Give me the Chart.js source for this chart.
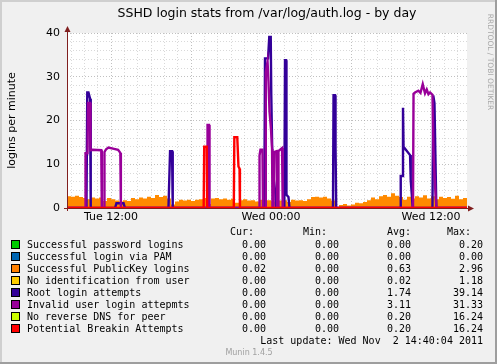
<!DOCTYPE html>
<html>
<head>
<meta charset="utf-8">
<script src="https://cdn.jsdelivr.net/npm/chart.js@4.4.0/dist/chart.umd.min.js"></script>
<style>
  html, body { margin: 0; padding: 0; background: #f0f0f0; }
  #wrap { width: 497px; height: 364px; }
</style>
</head>
<body>
<div id="wrap"><canvas id="sshd" width="497" height="364"></canvas></div>
<script>
// --- DATA (hours since Tue 00:00) ---
const xStart = 8.7;
const xEnd = 38.7;
const xTickHours = [12, 24, 36];
const xTickLabels = ['Tue 12:00', 'Wed 00:00', 'Wed 12:00'];
const yTickValues = [0, 10, 20, 30, 40];

// Successful PublicKey logins, one sample every 18 minutes from xStart
const pubkeyStep = 0.3;
const pubkeyValues = [
    2.7, 2.6, 2.8, 2.5, 2.3, 2.0, 2.4, 2.2, 2.4, 1.6,
    2.3, 2.0, 1.7, 1.5, 1.8, 1.6, 2.3, 2.0, 2.4, 2.2,
    2.6, 2.3, 3.0, 2.5, 2.8, 2.2, 0.8, 1.5, 1.9, 1.7,
    1.9, 1.6, 1.9, 2.0, 2.3, 0.9, 2.2, 2.3, 2.0, 2.2,
    1.9, 2.1, 1.2, 1.8, 2.0, 1.7, 1.8, 1.5, 1.9, 1.6,
    1.8, 1.5, 1.9, 1.7, 1.8, 1.4, 1.9, 1.7, 1.8, 1.6,
    2.0, 2.5, 2.6, 2.4, 2.6, 2.2, 1.7, 0.2, 0.7, 0.9,
    0.6, 0.8, 1.2, 1.1, 1.4, 1.8, 2.4, 2.0, 2.7, 3.0,
    2.6, 3.4, 2.8, 2.5, 1.9, 2.6, 2.2, 2.7, 2.4, 2.9,
    2.2, 2.7, 2.0, 2.6, 2.3, 2.5, 2.1, 2.8, 2.0, 2.3,
    1.9
];

// Root login attempts
const rootTimes = [
    8.70, 10.16, 10.22, 10.31, 10.43, 10.48,
    12.30, 12.41, 12.94, 13.05,
    16.31, 16.35, 16.43, 16.58, 16.63,
    23.50, 23.55, 23.78, 23.87, 23.98, 24.02, 24.11, 24.15, 24.34, 24.40,
    25.00, 25.05, 25.13, 25.16, 25.31, 25.39,
    28.65, 28.69, 28.80, 28.84, 28.89,
    33.68, 33.73, 33.86, 33.90, 33.94, 34.43, 34.48, 34.63,
    36.11, 36.17, 36.26, 36.40, 38.70
];
const rootValues = [
    0, 0, 26.4, 26.4, 25.0, 0,
    0, 1.1, 1.1, 0,
    0, 4.3, 13.0, 13.0, 0,
    0, 34.2, 34.2, 39.1, 39.1, 26, 10, 8, 3, 0,
    0, 33.8, 33.8, 3, 2.5, 0,
    0, 25.8, 25.8, 14, 0,
    0, 7.3, 7.3, 22.9, 14, 12.1, 6.4, 0,
    0, 25.7, 24, 0, 0
];

// Invalid user login attepmts
const invalidTimes = [
    8.70, 10.05, 10.09, 10.24, 10.28, 10.43, 10.46, 10.61, 11.27, 11.31,
    11.48, 11.51, 11.63, 11.81, 12.23, 12.53, 12.70, 12.74,
    19.20, 19.24, 19.35, 19.39,
    23.10, 23.14, 23.21, 23.36, 23.40,
    23.57, 23.61, 23.74, 23.81, 23.89, 24.00, 24.08, 24.11,
    24.19, 24.23, 24.41, 24.45,
    24.53, 24.56, 24.83, 24.88,
    34.65, 34.69, 34.80, 35.05, 35.21, 35.38, 35.55, 35.68, 35.81, 35.93,
    36.11, 36.19, 36.34, 36.41, 38.70
];
const invalidValues = [
    0, 0, 12.5, 12.5, 24, 24, 13.2, 13.3, 13.2, 0,
    0, 12.8, 13.4, 13.8, 13.5, 13.3, 12.6, 0,
    0, 19, 19, 0,
    0, 12, 13.3, 13.3, 0,
    0, 31, 33.5, 29, 22, 18, 13.5, 0,
    0, 12.8, 13, 0,
    0, 13, 13.7, 0,
    0, 26.1, 26.4, 26.8, 26.3, 28.3, 26.2, 27.1, 26.0, 26.4,
    25.9, 12, 3, 0, 0
];

// Potential Breakin Attempts
const breakinTimes = [8.70, 18.95, 18.99, 19.18, 19.21, 21.21, 21.25, 21.47, 21.56, 21.64, 21.67, 38.70];
const breakinValues = [0, 0, 14, 14, 0, 0, 16.2, 16.2, 9.5, 9, 0, 0];

// Legend table
const seriesNames = [
    'Successful password logins',
    'Successful login via PAM',
    'Successful PublicKey logins',
    'No identification from user',
    'Root login attempts',
    'Invalid user login attepmts',
    'No reverse DNS for peer',
    'Potential Breakin Attempts'
];
const seriesColors = ['#00CC00', '#0066B3', '#FF8000', '#FFCC00', '#330099', '#990099', '#CCFF00', '#FF0000'];
const curValues = [0.00, 0.00, 0.02, 0.00, 0.00, 0.00, 0.00, 0.00];
const minValues = [0.00, 0.00, 0.00, 0.00, 0.00, 0.00, 0.00, 0.00];
const avgValues = [0.00, 0.00, 0.63, 0.02, 1.74, 3.11, 0.20, 0.20];
const maxValues = [0.20, 0.00, 2.96, 1.18, 39.14, 31.33, 16.24, 16.24];

// --- HELPERS ---
const toPoints = (times, values) => times.map((t, i) => ({ x: t, y: values[i] }));
const pubkeyPoints = pubkeyValues.map((v, i) => ({ x: xStart + i * pubkeyStep, y: v }));

// --- PLUGIN: rrdtool-like frame, texts and legend table ---
const rrdDecor = {
    id: 'rrdDecor',
    beforeDraw(chart) {
        const { ctx, chartArea: a } = chart;
        ctx.save();
        ctx.fillStyle = '#f0f0f0';
        ctx.fillRect(0, 0, chart.width, chart.height);
        ctx.fillStyle = '#ffffff';
        ctx.fillRect(a.left, a.top, a.right - a.left, a.bottom - a.top);
        ctx.restore();
    },
    afterDatasetsDraw(chart) {
        const { ctx, chartArea: a } = chart;
        ctx.save();
        ctx.strokeStyle = '#801f1f';
        ctx.fillStyle = '#801f1f';
        ctx.lineWidth = 1;
        // axes
        ctx.beginPath();
        ctx.moveTo(a.left - 3, a.bottom + 0.5);
        ctx.lineTo(a.right + 2, a.bottom + 0.5);
        ctx.moveTo(a.left + 0.5, a.bottom + 3);
        ctx.lineTo(a.left + 0.5, a.top - 3);
        ctx.stroke();
        // arrow heads
        ctx.beginPath();
        ctx.moveTo(a.right + 7, a.bottom + 0.5);
        ctx.lineTo(a.right + 1, a.bottom - 2.5);
        ctx.lineTo(a.right + 1, a.bottom + 3.5);
        ctx.closePath();
        ctx.fill();
        ctx.beginPath();
        ctx.moveTo(a.left + 0.5, a.top - 7);
        ctx.lineTo(a.left - 2.5, a.top - 1);
        ctx.lineTo(a.left + 3.5, a.top - 1);
        ctx.closePath();
        ctx.fill();
        ctx.restore();
    },
    afterDraw(chart) {
        const { ctx, chartArea: a } = chart;
        const W = chart.width, H = chart.height;
        ctx.save();

        // 3D frame
        ctx.fillStyle = '#cfcfcf';
        ctx.fillRect(0, 0, W, 2);
        ctx.fillRect(0, 0, 2, H);
        ctx.fillStyle = '#9e9e9e';
        ctx.fillRect(0, H - 2, W, 2);
        ctx.fillRect(W - 2, 0, 2, H);

        // title
        ctx.fillStyle = '#000';
        ctx.textBaseline = 'middle';
        ctx.textAlign = 'center';
        ctx.font = '12.5px "DejaVu Sans"';
        ctx.fillText('SSHD login stats from /var/log/auth.log - by day', (a.left + a.right) / 2, 14);

        // vertical axis title
        ctx.save();
        ctx.translate(12, (a.top + a.bottom) / 2);
        ctx.rotate(-Math.PI / 2);
        ctx.font = '11px "DejaVu Sans"';
        ctx.fillText('logins per minute', 0, 0);
        ctx.restore();

        // watermark
        ctx.save();
        ctx.translate(490, 62);
        ctx.rotate(Math.PI / 2);
        ctx.fillStyle = '#a8a8a8';
        ctx.font = '7.5px "DejaVu Sans"';
        ctx.fillText('RRDTOOL / TOBI OETIKER', 0, 0);
        ctx.restore();

        // legend table
        ctx.font = '10px "DejaVu Sans Mono"';
        ctx.textAlign = 'left';
        ctx.fillStyle = '#000';
        ctx.fillText('Cur:', 230, 232);
        ctx.fillText('Min:', 303, 232);
        ctx.fillText('Avg:', 387, 232);
        ctx.fillText('Max:', 447, 232);

        const cols = [266, 339, 411, 483];
        const tables = [curValues, minValues, avgValues, maxValues];
        seriesNames.forEach((name, i) => {
            const y = 245 + i * 12;
            ctx.fillStyle = seriesColors[i];
            ctx.fillRect(11, y - 4, 8, 8);
            ctx.strokeStyle = '#000';
            ctx.lineWidth = 1;
            ctx.strokeRect(11.5, y - 4.5, 8, 8);

            ctx.fillStyle = '#000';
            ctx.textAlign = 'left';
            ctx.fillText(name, 27, y);
            ctx.textAlign = 'right';
            tables.forEach((tbl, c) => ctx.fillText(tbl[i].toFixed(2), cols[c], y));
        });

        ctx.textAlign = 'right';
        ctx.fillText('Last update: Wed Nov  2 14:40:04 2011', 483, 341);

        ctx.textAlign = 'center';
        ctx.fillStyle = '#a0a0a0';
        ctx.font = '8px "DejaVu Sans"';
        ctx.fillText('Munin 1.4.5', 249, 353);

        ctx.restore();
    }
};

// --- CHART ---
const minorGrid = 'rgba(160,160,160,0.4)';
const majorGrid = 'rgba(140,140,140,0.55)';

new Chart(document.getElementById('sshd'), {
    type: 'line',
    data: {
        datasets: [
            {
                label: 'Potential Breakin Attempts',
                data: toPoints(breakinTimes, breakinValues),
                borderColor: '#FF0000',
                borderWidth: 2.4,
                order: 0
            },
            {
                label: 'Invalid user login attepmts',
                data: toPoints(invalidTimes, invalidValues),
                borderColor: '#990099',
                borderWidth: 2.4,
                order: 1
            },
            {
                label: 'Root login attempts',
                data: toPoints(rootTimes, rootValues),
                borderColor: '#330099',
                borderWidth: 2.4,
                order: 2
            },
            {
                label: 'Successful PublicKey logins',
                data: pubkeyPoints,
                borderWidth: 0,
                borderColor: 'rgba(0,0,0,0)',
                backgroundColor: '#FF8A00',
                fill: 'origin',
                stepped: 'before',
                order: 3
            }
        ]
    },
    options: {
        responsive: false,
        animation: false,
        devicePixelRatio: 1,
        layout: { padding: { top: 33, right: 30, left: 0, bottom: 0 } },
        elements: { point: { radius: 0 }, line: { tension: 0 } },
        plugins: { legend: { display: false }, tooltip: { enabled: false }, title: { display: false } },
        scales: {
            x: {
                type: 'linear',
                min: xStart,
                max: xEnd,
                afterFit(scale) { scale.height = 156; },
                afterBuildTicks(scale) {
                    const ticks = [];
                    for (let h = Math.ceil(xStart); h < xEnd; h++) ticks.push({ value: h });
                    scale.ticks = ticks;
                },
                ticks: {
                    autoSkip: false,
                    maxRotation: 0,
                    padding: 3,
                    color: '#000',
                    font: { family: 'DejaVu Sans', size: 11 },
                    callback(value) {
                        const k = xTickHours.indexOf(value);
                        return k === -1 ? '' : xTickLabels[k];
                    }
                },
                grid: {
                    drawTicks: false,
                    color(c) { return c.tick && c.tick.value % 6 === 0 ? majorGrid : minorGrid; }
                },
                border: { display: false, dash: [1, 2] }
            },
            y: {
                type: 'linear',
                min: 0,
                max: 40,
                afterFit(scale) { scale.width = 67; },
                ticks: {
                    stepSize: 2,
                    autoSkip: false,
                    padding: 7,
                    color: '#000',
                    font: { family: 'DejaVu Sans', size: 11 },
                    callback(value) { return yTickValues.includes(value) ? String(value) : ''; }
                },
                grid: {
                    drawTicks: false,
                    color(c) { return c.tick && c.tick.value % 10 === 0 ? majorGrid : minorGrid; }
                },
                border: { display: false, dash: [1, 2] }
            }
        }
    },
    plugins: [rrdDecor]
});
</script>
</body>
</html>
